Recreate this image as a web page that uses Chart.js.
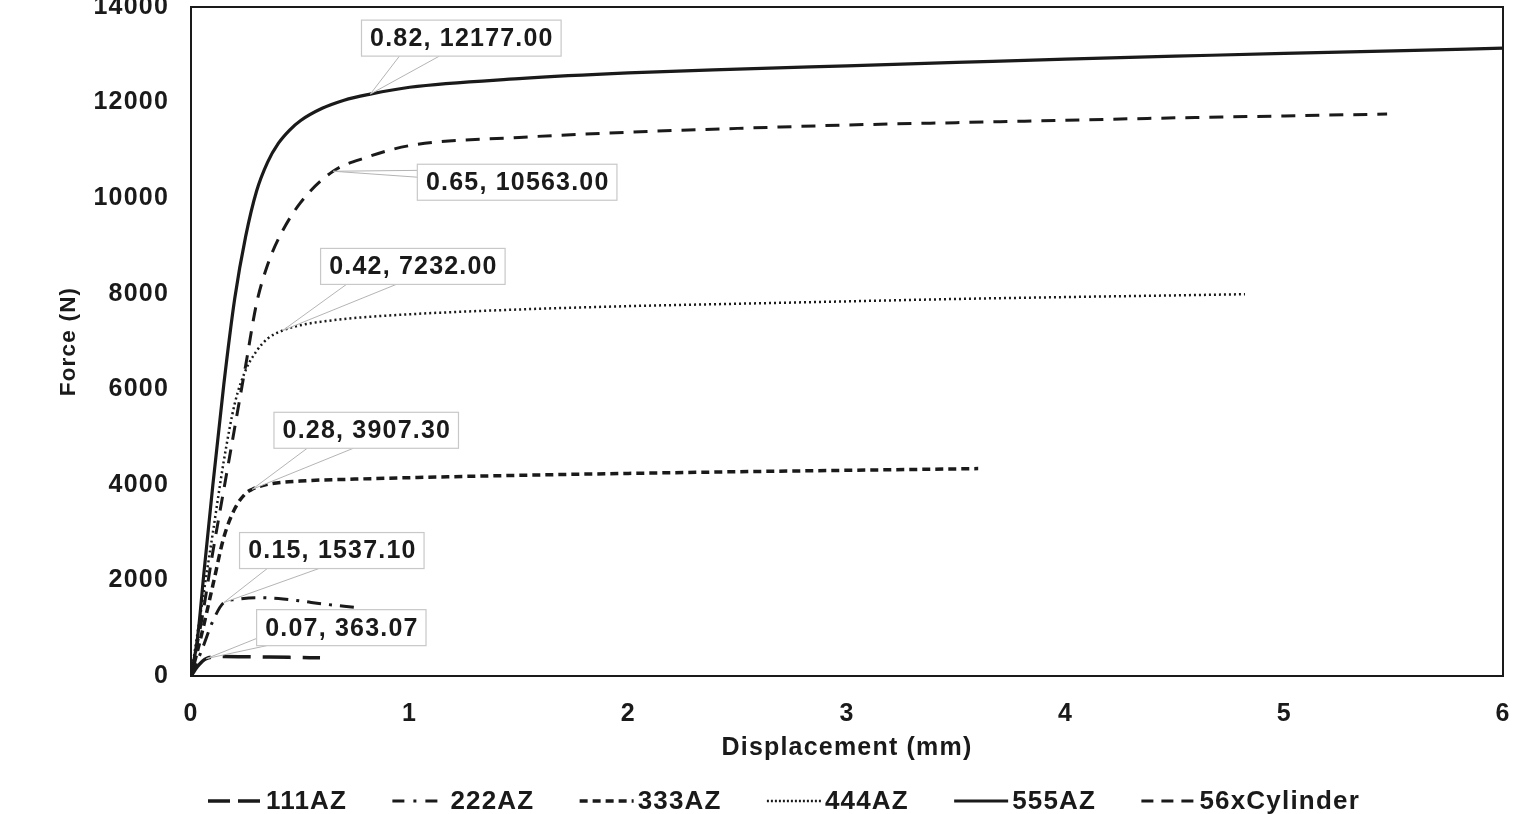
<!DOCTYPE html>
<html><head><meta charset="utf-8">
<script src="https://cdn.jsdelivr.net/npm/chart.js@4"></script>
<style>html,body{margin:0;padding:0;background:#fff;overflow:hidden}canvas{display:block}</style>
</head><body>
<canvas id="c" width="1537" height="814"></canvas>
<script>
// ---------- data ----------
const seriesNames = ['111AZ', '222AZ', '333AZ', '444AZ', '555AZ', '56xCylinder'];

const x111 = [0, 0.03, 0.07, 0.15, 0.3, 0.45, 0.59];
const y111 = [0, 200, 363.07, 410, 400, 390, 380];

const x222 = [0, 0.05, 0.1, 0.15, 0.2, 0.3, 0.4, 0.5, 0.6, 0.7, 0.77];
const y222 = [0, 550, 1150, 1537.1, 1600, 1640, 1620, 1570, 1510, 1460, 1430];

const x333 = [0, 0.05, 0.1, 0.15, 0.2, 0.25, 0.28, 0.35, 0.5, 0.75, 1, 1.5, 2, 2.5, 3, 3.6];
const y333 = [0, 900, 1900, 2900, 3500, 3820, 3907.3, 4010, 4080, 4120, 4150, 4200, 4240, 4275, 4305, 4340];

const x444 = [0, 0.1, 0.15, 0.2, 0.25, 0.3, 0.35, 0.42, 0.5, 0.7, 1, 1.5, 2, 2.5, 3, 3.5, 4, 4.5, 4.82];
const y444 = [0, 3000, 4500, 5700, 6400, 6800, 7060, 7232, 7340, 7470, 7570, 7670, 7740, 7790, 7840, 7890, 7930, 7965, 7990];

const x555 = [0, 0.03, 0.06, 0.1, 0.15, 0.2, 0.25, 0.3, 0.35, 0.4, 0.45, 0.5, 0.6, 0.7, 0.82, 1, 1.5, 2, 2.5, 3, 3.5, 4, 4.5, 5, 5.5, 6];
const y555 = [0, 800, 2200, 4000, 6100, 7900, 9200, 10150, 10750, 11150, 11420, 11620, 11880, 12050, 12177, 12320, 12500, 12620, 12700, 12770, 12840, 12910, 12970, 13030, 13080, 13140];

const xCyl = [0, 0.05, 0.1, 0.15, 0.2, 0.25, 0.3, 0.35, 0.4, 0.5, 0.65, 0.8, 1, 1.5, 2, 2.5, 3, 3.5, 4, 4.5, 5, 5.47];
const yCyl = [0, 1200, 2600, 3900, 5200, 6500, 7800, 8600, 9150, 9900, 10563, 10850, 11100, 11270, 11380, 11460, 11530, 11580, 11630, 11680, 11720, 11760];

const xTicks = [0, 1, 2, 3, 4, 5, 6];
const yTicks = [0, 2000, 4000, 6000, 8000, 10000, 12000, 14000];

const calloutX = [0.82, 0.65, 0.42, 0.28, 0.15, 0.07];
const calloutY = [12177.00, 10563.00, 7232.00, 3907.30, 1537.10, 363.07];
const calloutText = ['0.82, 12177.00', '0.65, 10563.00', '0.42, 7232.00', '0.28, 3907.30', '0.15, 1537.10', '0.07, 363.07'];

// ---------- layout / style (not data) ----------
const calloutLayout = [
  {dx: 91,  dy: -56, base: [[0.19, 1], [0.39, 1]]},
  {dx: 184, dy: 11,  base: [[0, 0.17], [0, 0.36]]},
  {dx: 130, dy: -64, base: [[0.14, 1], [0.41, 1]]},
  {dx: 114, dy: -59, base: [[0.18, 1], [0.43, 1]]},
  {dx: 108, dy: -52, base: [[0.15, 1], [0.43, 1]]},
  {dx: 135, dy: -31, base: [[0, 0.8], [0.06, 1]]}
];
const FONT = '"Liberation Sans", Arial, Helvetica, sans-serif';
const ink = '#1a1a1a';
const SPACING = '1.2px';

const styles = [
  {dash: [28, 12], w: 3.5, legendDash: [22, 8]},
  {dash: [14, 8, 3, 8], w: 3, legendDash: [12, 9, 3, 9]},
  {dash: [8, 5], w: 3.5, legendDash: [8, 5]},
  {dash: [2, 3], w: 2.5, legendDash: [2, 2]},
  {dash: [], w: 3.2, legendDash: []},
  {dash: [14, 10], w: 3, legendDash: [12, 8]}
];

const xs = [x111, x222, x333, x444, x555, xCyl];
const ys = [y111, y222, y333, y444, y555, yCyl];

const datasets = seriesNames.map((name, i) => ({
  label: name,
  data: xs[i].map((x, k) => ({x: x, y: ys[i][k]})),
  borderColor: ink,
  backgroundColor: ink,
  borderWidth: styles[i].w,
  borderDash: styles[i].dash,
  borderCapStyle: 'butt',
  pointRadius: 0,
  cubicInterpolationMode: 'monotone',
  fill: false
}));

const spacingPlugin = {
  id: 'spacing',
  beforeUpdate(chart) { chart.ctx.letterSpacing = SPACING; },
  beforeLayout(chart) { chart.ctx.letterSpacing = SPACING; },
  beforeDraw(chart) { chart.ctx.letterSpacing = SPACING; }
};

const framePlugin = {
  id: 'frame',
  beforeDatasetsDraw(chart) {
    const {ctx, chartArea: a} = chart;
    ctx.save();
    ctx.strokeStyle = ink;
    ctx.lineWidth = 2;
    ctx.strokeRect(a.left, a.top, a.right - a.left, a.bottom - a.top);
    ctx.restore();
  }
};

const calloutPlugin = {
  id: 'callouts',
  afterDatasetsDraw(chart) {
    const {ctx} = chart;
    const xs_ = chart.scales.x, ys_ = chart.scales.y;
    ctx.save();
    ctx.letterSpacing = SPACING;
    ctx.font = 'bold 25px ' + FONT;
    calloutX.forEach((vx, i) => {
      const px = xs_.getPixelForValue(vx);
      const py = ys_.getPixelForValue(calloutY[i]);
      const L = calloutLayout[i];
      const tw = ctx.measureText(calloutText[i]).width;
      const w = tw + 16, h = 36;
      const bx = px + L.dx - w / 2, by = py + L.dy - h / 2;
      const b1 = [bx + L.base[0][0] * w, by + L.base[0][1] * h];
      const b2 = [bx + L.base[1][0] * w, by + L.base[1][1] * h];
      ctx.beginPath();
      ctx.moveTo(b1[0], b1[1]);
      ctx.lineTo(px, py);
      ctx.lineTo(b2[0], b2[1]);
      ctx.closePath();
      ctx.fillStyle = '#ffffff';
      ctx.fill();
      ctx.beginPath();
      ctx.moveTo(b1[0], b1[1]);
      ctx.lineTo(px, py);
      ctx.lineTo(b2[0], b2[1]);
      ctx.strokeStyle = '#b4b4b4';
      ctx.lineWidth = 1;
      ctx.stroke();
      ctx.fillStyle = '#ffffff';
      ctx.fillRect(bx, by, w, h);
      ctx.strokeStyle = '#c8c8c8';
      ctx.lineWidth = 1.2;
      ctx.strokeRect(bx, by, w, h);
      ctx.fillStyle = ink;
      ctx.textAlign = 'left';
      ctx.textBaseline = 'middle';
      ctx.fillText(calloutText[i], bx + 8 + 0.6, by + h / 2 + 1);
    });
    ctx.restore();
  }
};

const legendPlugin = {
  id: 'customLegend',
  afterDraw(chart) {
    const {ctx} = chart;
    ctx.save();
    ctx.letterSpacing = SPACING;
    ctx.font = 'bold 26px ' + FONT;
    const sample = 54, gap = 4;
    const widths = seriesNames.map(n => sample + gap + ctx.measureText(n).width);
    const leftX = 208, rightX = 1360;
    const spacing = (rightX - leftX - widths.reduce((a, b) => a + b, 0)) / (seriesNames.length - 1);
    let x = leftX;
    const y = 801;
    chart.data.datasets.forEach((ds, i) => {
      ctx.beginPath();
      ctx.setLineDash(styles[i].legendDash);
      ctx.lineWidth = ds.borderWidth;
      ctx.strokeStyle = ds.borderColor;
      ctx.lineCap = 'butt';
      ctx.moveTo(x, y);
      ctx.lineTo(x + sample, y);
      ctx.stroke();
      ctx.setLineDash([]);
      ctx.fillStyle = ink;
      ctx.textAlign = 'left';
      ctx.textBaseline = 'middle';
      ctx.fillText(ds.label, x + sample + gap, y + 1);
      x += widths[i] + spacing;
    });
    ctx.restore();
  }
};

new Chart(document.getElementById('c'), {
  type: 'line',
  data: {datasets: datasets},
  plugins: [spacingPlugin, framePlugin, calloutPlugin, legendPlugin],
  options: {
    responsive: false,
    animation: false,
    events: [],
    layout: {padding: {left: 0, right: 34, top: 7, bottom: 51}},
    plugins: {legend: {display: false}, tooltip: {enabled: false}, title: {display: false}},
    scales: {
      x: {
        type: 'linear', min: 0, max: 6,
        afterBuildTicks(s) { s.ticks = xTicks.map(v => ({value: v})); },
        afterFit(s) { s.height = 87; s.paddingLeft = 0; s.paddingRight = 0; },
        grid: {display: false, drawTicks: false},
        border: {display: false},
        ticks: {color: ink, font: {family: FONT, size: 25, weight: 'bold'}, padding: 23, maxRotation: 0},
        title: {display: true, text: 'Displacement (mm)', color: ink, font: {family: FONT, size: 25, weight: 'bold'}, padding: {top: 0, bottom: 0}}
      },
      y: {
        type: 'linear', min: 0, max: 14000,
        afterBuildTicks(s) { s.ticks = yTicks.map(v => ({value: v})); },
        afterFit(s) { s.width = 191; s.paddingTop = 0; s.paddingBottom = 0; },
        grid: {display: false, drawTicks: false},
        border: {display: false},
        ticks: {color: ink, font: {family: FONT, size: 25, weight: 'bold'}, padding: 22, callback: v => String(v)},
        title: {display: true, text: 'Force (N)', color: ink, font: {family: FONT, size: 22.5, weight: 'bold'}, padding: {top: 55, bottom: 0}}
      }
    }
  }
});
</script>
</body></html>
